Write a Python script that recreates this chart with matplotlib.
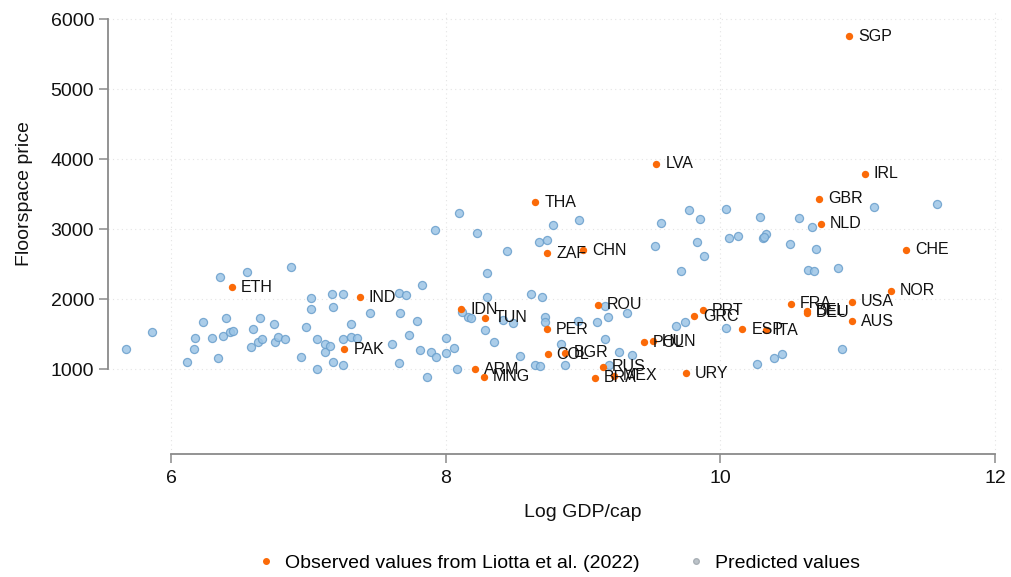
import matplotlib
matplotlib.use("Agg")
import matplotlib.pyplot as plt
from matplotlib.lines import Line2D

plt.rcParams['font.family'] = ['Liberation Sans', 'DejaVu Sans']

# Observed floorspace prices (labelled by ISO code)
obs_iso = ["ETH", "IND", "PAK", "IDN", "TUN", "ARM", "MNG", "THA", "ZAF", "CHN",
           "PER", "COL", "BGR", "ROU", "RUS", "BRA", "MEX", "LVA", "POL", "HUN",
           "URY", "GRC", "PRT", "ESP", "ITA", "FRA", "BEL", "DEU", "GBR", "NLD",
           "USA", "AUS", "IRL", "NOR", "CHE", "SGP"]
obs_gdp = [6.445, 7.373, 7.262, 8.113, 8.29, 8.212, 8.278, 8.653, 8.74, 9.00,
           8.735, 8.742, 8.87, 9.11, 9.146, 9.085, 9.226, 9.535, 9.445, 9.51,
           9.747, 9.81, 9.875, 10.16, 10.33, 10.515, 10.63, 10.63, 10.72, 10.73,
           10.96, 10.96, 11.05, 11.24, 11.35, 10.94]
obs_price = [2167, 2024, 1281, 1853, 1729, 1000, 886, 3382, 2653, 2700,
             1567, 1210, 1229, 1919, 1033, 876, 904, 3934, 1385, 1400,
             938, 1753, 1838, 1571, 1557, 1933, 1830, 1805, 3429, 3072,
             1962, 1681, 3786, 2115, 2705, 5757]

# Predicted floorspace prices
pred_gdp = [5.67, 5.86, 6.12, 6.17, 6.175, 6.23, 6.30, 6.34, 6.36, 6.375,
            6.40, 6.43, 6.45, 6.55, 6.58, 6.60, 6.63, 6.66, 6.65, 6.75,
            6.76, 6.78, 6.83, 6.875, 6.95, 6.98, 7.02, 7.02, 7.06, 7.065,
            7.12, 7.12, 7.16, 7.17, 7.18, 7.18, 7.25, 7.25, 7.25, 7.31,
            7.31, 7.355, 7.45, 7.61, 7.66, 7.71, 7.665, 7.73, 7.66, 7.79,
            7.81, 7.83, 7.89, 7.93, 7.865, 7.92, 8.0, 8.0, 8.06, 8.08,
            8.095, 8.23, 8.16, 8.185, 8.12, 8.285, 8.30, 8.30, 8.35, 8.42,
            8.45, 8.49, 8.54, 8.62, 8.65, 8.69, 8.68, 8.74, 8.70, 8.72,
            8.72, 8.78, 8.97, 8.96, 8.84, 8.87, 9.105, 9.18, 9.16, 9.32,
            9.16, 9.26, 9.36, 9.19, 9.525, 9.57, 9.77, 9.85, 9.83, 9.88,
            9.71, 10.04, 10.065, 10.13, 10.29, 10.31, 10.33, 10.32, 9.68, 9.74,
            10.04, 10.27, 10.39, 10.45, 10.57, 10.67, 11.12, 11.575, 10.51, 10.70,
            10.64, 10.685, 10.86, 10.885]
pred_price = [1286, 1533, 1096, 1286, 1438, 1667, 1438, 1153, 2319, 1476,
              1724, 1533, 1540, 2390, 1319, 1572, 1390, 1429, 1733, 1647,
              1390, 1462, 1424, 2453, 1167, 1600, 2010, 1853, 1429, 1004,
              1362, 1247, 1333, 2067, 1890, 1104, 2076, 1057, 1424, 1647,
              1462, 1438, 1796, 1357, 2090, 2057, 1796, 1486, 1081, 1686,
              1272, 2200, 1238, 1167, 881, 2986, 1438, 1224, 1296, 1000,
              3225, 2948, 1748, 1724, 1815, 1557, 2033, 2372, 1390, 1700,
              2686, 1657, 1181, 2076, 1057, 1047, 2819, 2839, 2029, 1748,
              1676, 3058, 3133, 1686, 1357, 1057, 1667, 1743, 1905, 1796,
              1429, 1247, 1200, 1057, 2762, 3082, 3272, 3139, 2810, 2619,
              2396, 3282, 2876, 2896, 3168, 2867, 2925, 2890, 1619, 1676,
              1581, 1076, 1162, 1210, 3162, 3025, 3311, 3358, 2791, 2710,
              2419, 2400, 2448, 1286]

x_ticks = [6, 8, 10, 12]
y_ticks = [1000, 2000, 3000, 4000, 5000, 6000]

orange = '#fb6a08'
blue_face = '#9cc5e6'
blue_edge = '#6a9fcc'
axis_grey = '#8a8a8a'

fig = plt.figure(figsize=(10.11, 5.77), dpi=100)
ax = fig.add_axes([0.1068, 0.2132, 0.8843, 0.7695])

ax.scatter(pred_gdp, pred_price, s=34, facecolor=blue_face, edgecolor=blue_edge,
           linewidth=0.9, alpha=0.85, zorder=2)
ax.scatter(obs_gdp, obs_price, s=28, color=orange, linewidth=0, zorder=3)
for iso, gx, py in zip(obs_iso, obs_gdp, obs_price):
    ax.annotate(iso, (gx, py), xytext=(6.5, 0), textcoords='offset points',
                va='center', ha='left', fontsize=11.5, color='#111111', zorder=4)

ax.set_xlim(5.541, 12.051)
ax.set_ylim(-214, 6129)
ax.set_xticks(x_ticks)
ax.set_yticks(y_ticks)
ax.set_xticklabels([str(t) for t in x_ticks])
ax.set_yticklabels([str(t) for t in y_ticks])

# faint dotted grid
for t in y_ticks:
    ax.axhline(t, color='#e4e4e4', lw=0.8, ls=(0, (1, 3)), zorder=0)
for t in x_ticks:
    ax.axvline(t, color='#e4e4e4', lw=0.8, ls=(0, (1, 3)), zorder=0)

for side in ['top', 'right']:
    ax.spines[side].set_visible(False)
ax.spines['left'].set_bounds(1000, 6000)
ax.spines['bottom'].set_bounds(6, 12)
for side in ['left', 'bottom']:
    ax.spines[side].set_color(axis_grey)
    ax.spines[side].set_linewidth(1.3)
ax.tick_params(axis='both', colors=axis_grey, width=1.1, length=6.5,
               labelsize=14, labelcolor='#111111')
ax.tick_params(axis='y', pad=3.5)
ax.tick_params(axis='x', pad=5)

ax.set_xlabel('Log GDP/cap', fontsize=14, color='#111111')
ax.set_ylabel('Floorspace price', fontsize=14, color='#111111')
ax.xaxis.set_label_coords((583 - 108) / 894, -(504 - 454) / 444)
ax.yaxis.set_label_coords(-(108 - 33) / 894, (454 - 194) / 444)

handles = [
    Line2D([], [], ls='none', marker='o', markersize=4, color=orange),
    Line2D([], [], ls='none', marker='o', markersize=4, markerfacecolor='#bcc3c9',
           markeredgecolor='#a9b0b6'),
]
fig.legend(handles, ['Observed values from Liotta et al. (2022)', 'Predicted values'],
           loc='center', bbox_to_anchor=(0.553, 0.024), ncol=2, frameon=False,
           fontsize=14, handlelength=0.8, handletextpad=0.6, columnspacing=2.5)

fig.savefig('out.png', dpi=100)
